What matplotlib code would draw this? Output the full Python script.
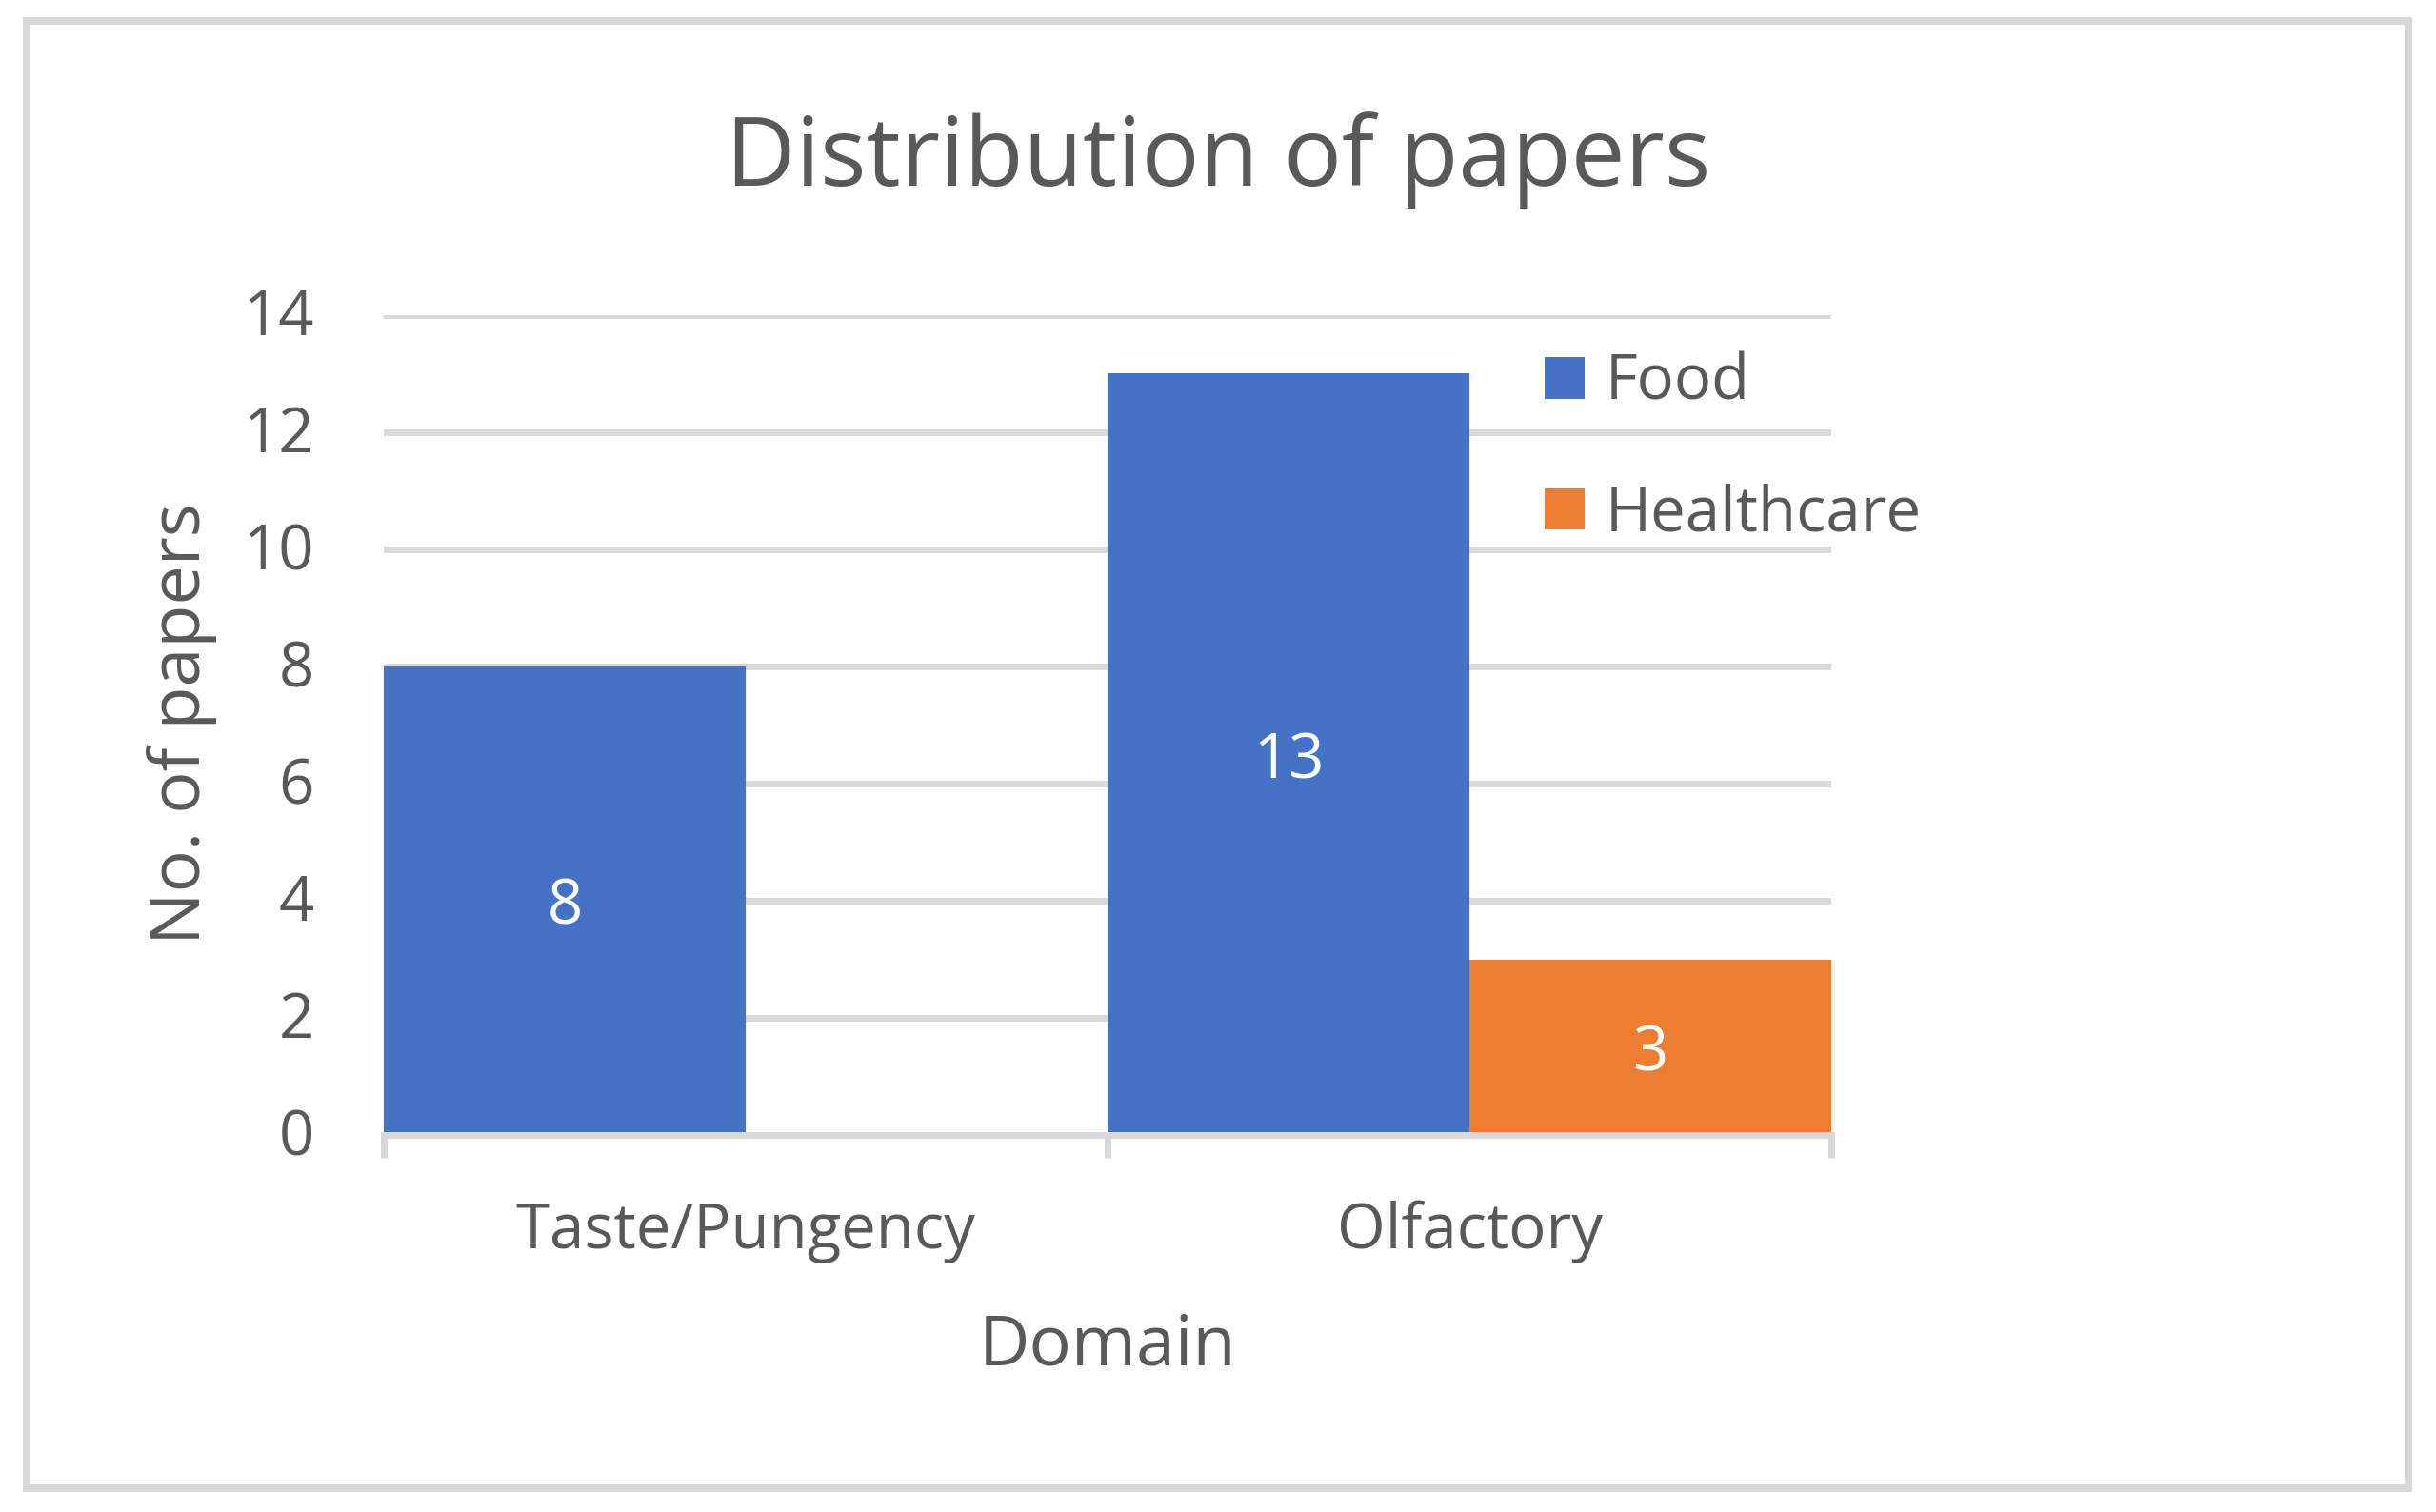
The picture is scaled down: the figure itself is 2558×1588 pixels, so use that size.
import matplotlib
matplotlib.use("Agg")
import matplotlib.pyplot as plt
import matplotlib.patches as patches
import matplotlib.transforms as mtransforms
import numpy as np

# Data
domains = ["Taste/Pungency", "Olfactory"]
series_names = ["Food", "Healthcare"]
food_counts = [8, 13]
healthcare_counts = [0, 3]
y_ticks = [0, 2, 4, 6, 8, 10, 12, 14]

text_color = "#595959"
grid_color = "#D9D9D9"
bar_colors = ["#4472C4", "#ED7D31"]

plt.rcParams["font.family"] = ["Open Sans", "DejaVu Sans"]

W, H = 2558, 1588
fig = plt.figure(figsize=(W / 100, H / 100), dpi=100)
fig.patch.set_facecolor("white")

# plot area in pixels: x 403..1923, y 331..1192
ax = fig.add_axes([403 / W, 1 - 1192 / H, (1923 - 403) / W, (1192 - 331) / H])

x = np.arange(len(domains))
width = 0.5
bars_food = ax.bar(x - width / 2, food_counts, width, color=bar_colors[0], label=series_names[0], zorder=3)
bars_hc = ax.bar(x + width / 2, healthcare_counts, width, color=bar_colors[1], label=series_names[1], zorder=3)

value_texts = []
value_texts += ax.bar_label(bars_food, labels=[str(v) if v else "" for v in food_counts],
                            label_type="center", color="white", fontsize=47)
value_texts += ax.bar_label(bars_hc, labels=[str(v) if v else "" for v in healthcare_counts],
                            label_type="center", color="white", fontsize=47)
for t in value_texts:
    t.set_verticalalignment("center_baseline")

ax.set_xlim(-0.5, len(domains) - 0.5)
ax.set_ylim(0, 14)
ax.set_yticks(y_ticks)
ax.tick_params(axis="y", length=0, pad=52.5, labelsize=47, labelcolor=text_color)
for lbl in ax.get_yticklabels():
    lbl.set_verticalalignment("center")
    lbl.set_transform(mtransforms.offset_copy(lbl.get_transform(), fig=fig, x=0, y=-3, units="points"))

# category labels at group centres, tick marks at group boundaries
ax.set_xticks(x, labels=domains)
ax.set_xticks(np.arange(-0.5, len(domains)), minor=True)
ax.tick_params(axis="x", which="major", length=0, pad=86, labelsize=47, labelcolor=text_color)
ax.tick_params(axis="x", which="minor", length=17, width=5, color=grid_color)
for lbl in ax.get_xticklabels():
    lbl.set_verticalalignment("baseline")

ax.yaxis.grid(True, color=grid_color, linewidth=5, zorder=0)
ax.set_axisbelow(True)
for side in ["top", "right", "left"]:
    ax.spines[side].set_visible(False)
ax.spines["bottom"].set_color(grid_color)
ax.spines["bottom"].set_linewidth(5)
ax.spines["bottom"].set_zorder(4)

fig.text(0.5, 1 - 195 / H, "Distribution of papers", ha="center", va="baseline",
         fontsize=73, color=text_color)
fig.text(1163 / W, 1 - 1434 / H, "Domain", ha="center", va="baseline",
         fontsize=53, color=text_color)
fig.text(210 / W, 1 - 760 / H, "No. of papers", ha="center", va="baseline", rotation=90,
         rotation_mode="anchor", fontsize=53, color=text_color)

leg = ax.legend(loc="upper left", bbox_to_anchor=(1622 / W, 1 - 370 / H), bbox_transform=fig.transFigure,
                frameon=False, fontsize=47, handlelength=0.64, handleheight=0.64, handletextpad=0.34,
                labelspacing=1.1, borderpad=0, borderaxespad=0)
for t in leg.get_texts():
    t.set_color(text_color)

# outer chart border
fig.patches.append(patches.Rectangle((28 / W, 1 - 1563 / H), (2529 - 28) / W, (1563 - 22) / H,
                                     transform=fig.transFigure, fill=False,
                                     edgecolor=grid_color, linewidth=5.8))

fig.savefig("out.png", dpi=100)
